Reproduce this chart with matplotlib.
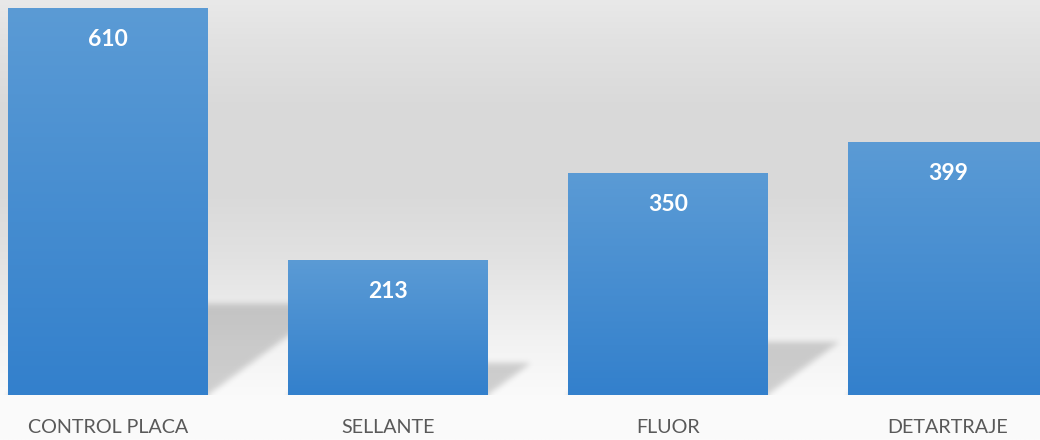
import numpy as np
import matplotlib
matplotlib.use("Agg")
import matplotlib.pyplot as plt
from matplotlib.colors import LinearSegmentedColormap

categories = ["CONTROL PLACA", "SELLANTE", "FLUOR", "DETARTRAJE"]
values = [610, 213, 350, 399]

W, H, DPI = 1040, 440, 100
fig = plt.figure(figsize=(W / DPI, H / DPI), dpi=DPI)

# ---- background gradient (figure-level axes) ----
bg = fig.add_axes([0, 0, 1, 1], zorder=0)
bg.set_axis_off()
stops_y = np.array([0, 40, 110, 200, 260, 300, 340, 380, 395, 440]) / H
stops_g = np.array([233, 226, 217, 218, 226, 234, 242, 248, 250, 251]) / 255
yy = np.linspace(0, 1, H)
g = np.interp(yy, stops_y, stops_g)
bg_img = np.repeat(g[:, None], 4, axis=1)
bg.imshow(np.dstack([bg_img, bg_img, bg_img]), extent=[0, 1, 1, 0], aspect="auto")
bg.set_xlim(0, 1)
bg.set_ylim(1, 0)

# ---- main axes ----
base_px = 395
ax = fig.add_axes([0, (H - base_px) / H, 1, base_px / H], zorder=1)
ax.patch.set_alpha(0)
x = np.arange(len(categories))
width = 200 / 280
xlim = (-108 / 280, (W - 108) / 280)
top_px = 8
ylim = (0, max(values) * (base_px) / (base_px - top_px))

# shadows: blurred parallelograms behind bars
nx, ny = W, base_px
gx = np.linspace(xlim[0], xlim[1], nx)
gy = np.linspace(ylim[0], ylim[1], ny)
GX, GY = np.meshgrid(gx, gy)
mask = np.zeros_like(GX)
px_per_x = W / (xlim[1] - xlim[0])
px_per_y = base_px / (ylim[1] - ylim[0])
for xi, v in zip(x, values):
    hs = 0.235 * v
    dx = 1.36 * hs * px_per_y / px_per_x
    t = np.clip(GY / hs, 0, None)
    left = xi - width / 2 + dx * t
    right = xi + width / 2 + dx * t
    m = (GY >= 0) & (GY <= hs) & (GX >= left) & (GX <= right)
    mask = np.maximum(mask, m.astype(float))

def gblur(a, sigma, axis):
    r = int(3 * sigma)
    k = np.exp(-0.5 * (np.arange(-r, r + 1) / sigma) ** 2)
    k /= k.sum()
    return np.apply_along_axis(lambda s: np.convolve(np.pad(s, r, mode="edge"), k, mode="valid"), axis, a)

mask = gblur(mask, 3.0, 1)
mask = gblur(mask, 3.0, 0)
shadow = np.zeros((ny, nx, 4))
shadow[..., 3] = 0.17 * mask
ax.imshow(shadow, extent=[xlim[0], xlim[1], ylim[0], ylim[1]], origin="lower",
          aspect="auto", zorder=1, interpolation="bilinear")

# bars with vertical gradient
cmap = LinearSegmentedColormap.from_list("bar", ["#3380cc", "#5b9bd5"])
grad = np.linspace(0, 1, 256)[:, None]
bars = ax.bar(x, values, width=width, color="none", edgecolor="none", zorder=2)
for b in bars:
    im = ax.imshow(grad, extent=[b.get_x(), b.get_x() + b.get_width(), 0, b.get_height()],
                   origin="lower", aspect="auto", cmap=cmap, zorder=2)
    im.set_clip_path(b)

for xi, v in zip(x, values):
    ax.annotate(str(v), (xi, v), xytext=(0, -27.4), textcoords="offset points",
                ha="center", va="baseline", color="white", fontsize=16.5,
                fontweight="bold", family="Lato", zorder=3)

ax.set_xlim(*xlim)
ax.set_ylim(*ylim)
ax.set_xticks(x)
ax.set_xticklabels(categories, family="Lato", fontsize=14.2, color="#595959")
ax.tick_params(axis="x", length=0, pad=17)
ax.set_yticks([])
for s in ax.spines.values():
    s.set_visible(False)

fig.savefig("out.png", dpi=DPI)
